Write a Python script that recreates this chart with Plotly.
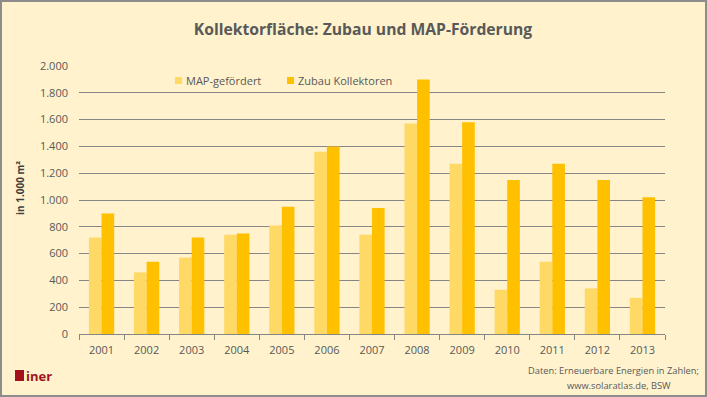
import plotly.graph_objects as go

years = ["2001", "2002", "2003", "2004", "2005", "2006", "2007",
         "2008", "2009", "2010", "2011", "2012", "2013"]
map_gefoerdert = [720, 460, 570, 740, 810, 1360, 740, 1570, 1270, 330, 540, 340, 270]
zubau_kollektoren = [900, 540, 720, 750, 950, 1400, 940, 1900, 1580, 1150, 1270, 1150, 1020]
y_ticks = [0, 200, 400, 600, 800, 1000, 1200, 1400, 1600, 1800, 2000]
y_labels = ["0", "200", "400", "600", "800", "1.000", "1.200", "1.400", "1.600", "1.800", "2.000"]

W, H = 707, 397
L, R, T, B = 79, 42, 66, 63
pw, ph = W - L - R, H - T - B

def px(x):
    return (x - L) / pw

def py(y):
    return (H - B - y) / ph

FONT = "Open Sans"
GREY = "#595959"
C_MAP = "#FFD966"
C_ZUB = "#FFC000"

fig = go.Figure()
fig.add_trace(go.Bar(x=years, y=map_gefoerdert, name="MAP-gefördert",
                     marker=dict(color=C_MAP, line=dict(width=0))))
fig.add_trace(go.Bar(x=years, y=zubau_kollektoren, name="Zubau Kollektoren",
                     marker=dict(color=C_ZUB, line=dict(width=0))))

fig.update_layout(
    width=W, height=H,
    margin=dict(l=L, r=R, t=T, b=B, autoexpand=False),
    paper_bgcolor="#FFF2CC",
    plot_bgcolor="#FFF2CC",
    barmode="group",
    bargap=0.44,
    bargroupgap=0,
    font=dict(family=FONT, color=GREY, size=11),
    title=dict(text="<b>Kollektorfläche: Zubau und MAP-Förderung</b>",
               x=363 / W, xanchor="center", y=1 - 30 / H, yanchor="middle",
               font=dict(family=FONT, size=15.7, color=GREY)),
    showlegend=False,
)
fig.update_xaxes(
    showgrid=False, showline=True, linecolor="#868686", linewidth=1,
    ticks="outside", tickson="boundaries", ticklen=5, tickcolor="#868686",
    tickfont=dict(size=11, color=GREY), automargin=False, ticklabelstandoff=6,
)
fig.update_yaxes(
    range=[0, 2000], tickvals=y_ticks, ticktext=y_labels,
    showgrid=True, gridcolor="#868686", gridwidth=1,
    showline=False, zeroline=False, ticks="", ticklen=0,
    tickfont=dict(size=11, color=GREY), automargin=False, ticklabelstandoff=10,
)

# y-axis title
fig.add_annotation(text="<b>in 1.000 m²</b>", xref="paper", yref="paper",
                   x=px(20), y=py(188), xanchor="center", yanchor="middle",
                   textangle=-90, showarrow=False,
                   font=dict(family=FONT, size=10, color="#404040"))

# legend (drawn manually)
legend_items = [("MAP-gefördert", C_MAP, 175), ("Zubau Kollektoren", C_ZUB, 287)]
for label, color, lx in legend_items:
    fig.add_shape(type="rect", xref="paper", yref="paper",
                  x0=px(lx), x1=px(lx + 7), y0=py(84), y1=py(77),
                  line=dict(width=0), fillcolor=color)
    fig.add_annotation(text=label, xref="paper", yref="paper",
                       x=px(lx + 9), y=py(80.5), xanchor="left", yanchor="middle",
                       showarrow=False, font=dict(family=FONT, size=11, color=GREY))

# figure border
fig.add_shape(type="rect", xref="paper", yref="paper",
              x0=px(1), x1=px(W - 1), y0=py(H - 1), y1=py(1),
              line=dict(color="#8c8c8c", width=2), fillcolor="rgba(0,0,0,0)", layer="below")

# logo
fig.add_shape(type="rect", xref="paper", yref="paper",
              x0=px(15), x1=px(24), y0=py(381), y1=py(370),
              line=dict(width=0), fillcolor="#A3121C")
fig.add_annotation(text="<b>iner</b>", xref="paper", yref="paper",
                   x=px(24), y=py(376), xanchor="left", yanchor="middle",
                   showarrow=False, font=dict(family=FONT, size=13, color="#A3121C"))

# source text
fig.add_annotation(text="Daten: Erneuerbare Energien in Zahlen;", xref="paper", yref="paper",
                   x=px(701), y=py(370), xanchor="right", yanchor="middle",
                   showarrow=False, font=dict(family=FONT, size=9.3, color=GREY))
fig.add_annotation(text="www.solaratlas.de, BSW", xref="paper", yref="paper",
                   x=px(673), y=py(385), xanchor="right", yanchor="middle",
                   showarrow=False, font=dict(family=FONT, size=9.3, color=GREY))

fig.write_html("out.html", config={"displayModeBar": False},
               post_script="document.body.style.margin='0';")
